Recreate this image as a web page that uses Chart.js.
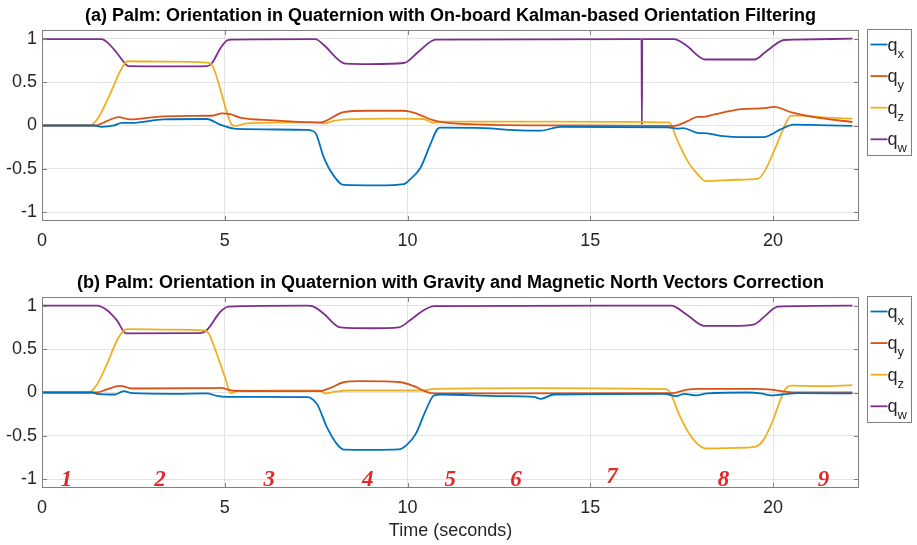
<!DOCTYPE html>
<html>
<head>
<meta charset="utf-8">
<script src="https://cdn.jsdelivr.net/npm/chart.js@4.4.1/dist/chart.umd.min.js"></script>
<style>
  html, body { margin: 0; padding: 0; background: #fff; }
  #wrap { position: relative; width: 917px; height: 545px; }
  .panel { position: absolute; left: 0; width: 917px; }
  #panel-a { top: 0; height: 265px; }
  #panel-b { top: 265px; height: 280px; }
</style>
</head>
<body>
<div id="wrap">
  <div class="panel" id="panel-a"><canvas id="chart-a"></canvas></div>
  <div class="panel" id="panel-b"><canvas id="chart-b"></canvas></div>
</div>
<script>
// (a) on-board Kalman filter, [time s, value]
const kalmanQx = [[0,0],[1.42,0],[1.63,-0.015],[1.95,-0.002],[2.18,0.03],[2.46,0.03],[3.32,0.07],[4.51,0.075],[4.87,0.01],[5.33,-0.04],[7.25,-0.05],[7.39,-0.06],[7.5,-0.1],[7.71,-0.37],[7.98,-0.58],[8.25,-0.685],[9.2,-0.69],[9.9,-0.675],[10.07,-0.62],[10.35,-0.49],[10.62,-0.22],[10.81,-0.045],[10.9,-0.025],[12.09,-0.03],[12.82,-0.05],[13.64,-0.06],[14.19,-0.015],[17.1,-0.02],[17.38,-0.035],[17.55,-0.03],[17.93,-0.085],[18.2,-0.09],[18.56,-0.12],[19.29,-0.135],[19.75,-0.135],[19.97,-0.1],[20.2,-0.045],[20.57,0.01],[21.2,0.005],[22.17,-0.005]];
const kalmanQy = [[0,0],[1.45,0],[1.77,0.05],[2.09,0.097],[2.41,0.07],[3.14,0.1],[4.05,0.11],[4.69,0.115],[4.92,0.14],[5.15,0.13],[5.42,0.09],[6.34,0.06],[7.62,0.035],[7.75,0.05],[8.25,0.155],[8.9,0.17],[9.9,0.17],[10.26,0.135],[10.67,0.065],[10.99,0.035],[12.09,0.01],[14.5,0],[17.29,-0.005],[17.66,0.05],[17.93,0.1],[18.1,0.1],[18.39,0.127],[19.03,0.184],[19.75,0.2],[20.03,0.215],[20.48,0.155],[21.12,0.097],[22.17,0.04]];
const kalmanQz = [[0,0],[1.31,0],[1.54,0.09],[1.86,0.36],[2.14,0.625],[2.34,0.74],[3.5,0.735],[4.51,0.725],[4.65,0.7],[4.87,0.43],[5.05,0.165],[5.19,0.01],[5.3,-0.005],[5.6,0.025],[7.4,0.035],[7.75,0.025],[7.95,0.05],[8.3,0.07],[9.5,0.08],[10.44,0.075],[10.71,0.03],[10.9,0.045],[14,0.045],[17.15,0.035],[17.39,-0.18],[17.66,-0.41],[17.93,-0.56],[18.16,-0.64],[19.0,-0.625],[19.57,-0.615],[19.75,-0.54],[20.03,-0.29],[20.29,-0.03],[20.48,0.11],[20.7,0.115],[21.5,0.09],[22.17,0.08]];
const kalmanQw = [[0,0.995],[1.63,0.995],[1.78,0.96],[2.05,0.835],[2.28,0.71],[2.36,0.683],[3.5,0.68],[4.51,0.685],[4.65,0.72],[4.88,0.89],[5.06,0.98],[5.19,0.99],[7.48,0.995],[7.7,0.93],[8.3,0.713],[9.0,0.708],[9.9,0.72],[10.3,0.85],[10.77,0.99],[16.4,0.995],[16.41,0.01],[16.42,0.995],[17.29,0.995],[17.6,0.93],[18.15,0.76],[19.49,0.76],[19.8,0.85],[20.3,0.985],[20.6,0.99],[22.17,1.0]];

// (b) gravity + magnetic north correction
const correctedQx = [[0,0],[1.37,0],[1.5,-0.015],[2.0,-0.023],[2.23,0.015],[2.46,-0.008],[3.6,-0.015],[4.51,-0.01],[4.79,-0.04],[5.05,-0.05],[7.25,-0.053],[7.34,-0.06],[7.53,-0.137],[7.8,-0.405],[8.07,-0.595],[8.25,-0.657],[9.0,-0.66],[9.76,-0.655],[9.95,-0.615],[10.22,-0.48],[10.49,-0.214],[10.72,-0.034],[10.9,-0.023],[12.55,-0.042],[13.46,-0.05],[13.64,-0.073],[14.01,-0.023],[17.02,-0.015],[17.34,-0.042],[17.57,-0.015],[17.89,-0.034],[18.2,-0.01],[19.3,0],[19.66,-0.01],[19.95,-0.034],[20.22,-0.023],[20.68,-0.008],[22.17,-0.011]];
const correctedQy = [[0,0],[1.5,0],[1.77,0.035],[2.14,0.076],[2.46,0.046],[4.51,0.05],[4.88,0.053],[5.24,0.02],[7.59,0.015],[7.89,0.053],[8.25,0.118],[8.71,0.13],[9.81,0.118],[10.17,0.073],[10.54,0.004],[10.72,-0.011],[17.21,-0.008],[17.66,0.034],[17.94,0.042],[19.49,0.042],[19.95,0.034],[20.22,0.015],[20.58,0],[22.17,0]];
const correctedQz = [[0,0],[1.27,0],[1.5,0.09],[1.77,0.32],[2.09,0.63],[2.32,0.73],[3.5,0.725],[4.42,0.715],[4.56,0.68],[4.79,0.435],[5.01,0.17],[5.17,-0.01],[5.33,0.015],[7.59,0.023],[7.75,-0.01],[7.98,0.008],[8.44,0.023],[10.45,0.023],[10.72,0.042],[13.5,0.05],[17.07,0.038],[17.21,-0.023],[17.39,-0.214],[17.66,-0.443],[17.94,-0.595],[18.16,-0.645],[19.0,-0.637],[19.49,-0.626],[19.72,-0.557],[19.99,-0.328],[20.22,-0.061],[20.36,0.053],[20.49,0.08],[21.3,0.073],[22.17,0.084]];
const correctedQw = [[0,1.0],[1.5,1.0],[1.77,0.95],[2.05,0.83],[2.3,0.68],[4.33,0.683],[4.51,0.72],[4.88,0.93],[5.1,0.99],[7.25,1.0],[7.43,0.99],[7.7,0.91],[8.16,0.75],[9.0,0.74],[9.76,0.75],[10.08,0.836],[10.45,0.95],[10.72,0.996],[17.21,1.0],[17.66,0.89],[18.12,0.767],[18.9,0.767],[19.49,0.786],[19.76,0.874],[20.13,0.989],[22.17,1.0]];

const seriesLabels = ["qx", "qy", "qz", "qw"];
const seriesColors = ["#0072BD", "#D95319", "#EDB120", "#7E2F8E"];

// red phase numbers on panel (b)
const phaseLabels = ["1", "2", "3", "4", "5", "6", "7", "8", "9"];
const phaseTimes = [0.67, 3.23, 6.22, 8.91, 11.17, 12.97, 15.59, 18.64, 21.38];
const phaseLevels = [-1.01, -1.01, -1.01, -1.01, -1.01, -1.01, -0.975, -1.01, -1.01];

const titleA = "(a) Palm: Orientation in Quaternion with On-board Kalman-based Orientation Filtering";
const titleB = "(b) Palm: Orientation in Quaternion with Gravity and Magnetic North Vectors Correction";

const FONT = "'Liberation Sans', Arial, sans-serif";
const INK = "#262626";

const frame = {
  id: "frame",
  afterDatasetsDraw(chart) {
    const { ctx, chartArea: a, scales: { x, y } } = chart;
    ctx.save();
    ctx.strokeStyle = "#808080";
    ctx.lineWidth = 1;
    ctx.strokeRect(Math.round(a.left) + 0.5, Math.round(a.top) + 0.5, Math.round(a.width) - 1, Math.round(a.height) - 1);
    ctx.beginPath();
    y.ticks.forEach(t => {
      const py = Math.round(y.getPixelForValue(t.value)) + 0.5;
      ctx.moveTo(a.left, py); ctx.lineTo(a.left + 5, py);
      ctx.moveTo(a.right, py); ctx.lineTo(a.right - 5, py);
    });
    x.ticks.forEach(t => {
      const px = Math.round(x.getPixelForValue(t.value)) + 0.5;
      ctx.moveTo(px, a.bottom); ctx.lineTo(px, a.bottom - 5);
      ctx.moveTo(px, a.top); ctx.lineTo(px, a.top + 5);
    });
    ctx.stroke();
    ctx.restore();
  }
};

const panelTitle = {
  id: "panelTitle",
  afterDraw(chart, args, opts) {
    const { ctx, chartArea: a } = chart;
    ctx.save();
    ctx.font = `bold 18px ${FONT}`;
    ctx.fillStyle = "#000";
    ctx.textAlign = "center";
    ctx.textBaseline = "middle";
    ctx.fillText(opts.text, (a.left + a.right) / 2, a.top - 14);
    ctx.restore();
  }
};

const qLegend = {
  id: "qLegend",
  afterDraw(chart) {
    const { ctx, chartArea: a } = chart;
    const left = Math.round(a.right) + 8.5, top = Math.round(a.top) - 0.5;
    ctx.save();
    ctx.fillStyle = "#fff";
    ctx.fillRect(left, top, 44, 126);
    ctx.strokeStyle = "#808080";
    ctx.lineWidth = 1;
    ctx.strokeRect(left, top, 44, 126);
    chart.data.datasets.forEach((ds, i) => {
      const yy = top + 15 + i * 31.6;
      ctx.strokeStyle = ds.borderColor;
      ctx.lineWidth = 1.8;
      ctx.beginPath();
      ctx.moveTo(left + 3, yy);
      ctx.lineTo(left + 20, yy);
      ctx.stroke();
      ctx.fillStyle = INK;
      ctx.textBaseline = "alphabetic";
      ctx.font = `18px ${FONT}`;
      ctx.fillText(ds.label[0], left + 20, yy + 6);
      ctx.font = `13px ${FONT}`;
      ctx.fillText(ds.label.slice(1), left + 30, yy + 13);
    });
    ctx.restore();
  }
};

const phaseMarks = {
  id: "phaseMarks",
  afterDatasetsDraw(chart, args, opts) {
    if (!opts.show) return;
    const { ctx, scales: { x, y } } = chart;
    ctx.save();
    ctx.font = "bold italic 23px 'Liberation Serif', 'Times New Roman', serif";
    ctx.fillStyle = "#e02a2a";
    ctx.textAlign = "center";
    ctx.textBaseline = "middle";
    phaseLabels.forEach((label, i) => {
      ctx.fillText(label, x.getPixelForValue(phaseTimes[i]), y.getPixelForValue(phaseLevels[i]));
    });
    ctx.restore();
  }
};

function buildChart(canvasId, series, title, opts) {
  return new Chart(document.getElementById(canvasId), {
    type: "line",
    data: {
      datasets: series.map((pts, i) => ({
        label: seriesLabels[i],
        data: pts.map(([t, v]) => ({ x: t, y: v })),
        borderColor: seriesColors[i],
        borderWidth: 1.8,
        pointRadius: 0,
        cubicInterpolationMode: "monotone",
        fill: false
      }))
    },
    options: {
      responsive: true,
      maintainAspectRatio: false,
      animation: false,
      devicePixelRatio: 1,
      layout: { padding: { top: opts.padTop, right: 58, bottom: 0, left: 0 } },
      plugins: {
        legend: { display: false },
        tooltip: { enabled: false },
        panelTitle: { text: title },
        phaseMarks: { show: opts.phases }
      },
      scales: {
        x: {
          type: "linear",
          min: 0,
          max: 22.35,
          afterFit: s => { s.height = opts.xHeight; },
          grid: { color: "#e3e3e3", drawTicks: false },
          border: { display: false },
          ticks: {
            stepSize: 5,
            includeBounds: false,
            padding: 9,
            color: INK,
            font: { family: FONT, size: 18 },
            maxRotation: 0
          },
          title: {
            display: opts.xTitle,
            text: "Time (seconds)",
            color: INK,
            font: { family: FONT, size: 18 },
            padding: { top: 4, bottom: 3 }
          }
        },
        y: {
          min: -1.1,
          max: 1.1,
          afterFit: s => { s.width = 42; },
          grid: { color: "#e3e3e3", drawTicks: false },
          border: { display: false },
          ticks: {
            stepSize: 0.5,
            includeBounds: false,
            padding: 5,
            color: INK,
            font: { family: FONT, size: 18 },
            callback: v => String(v)
          }
        }
      }
    },
    plugins: [frame, panelTitle, qLegend, phaseMarks]
  });
}

buildChart("chart-a", [kalmanQx, kalmanQy, kalmanQz, kalmanQw], titleA,
  { padTop: 30, xHeight: 44, xTitle: false, phases: false });
buildChart("chart-b", [correctedQx, correctedQy, correctedQz, correctedQw], titleB,
  { padTop: 32, xHeight: 57, xTitle: true, phases: true });
</script>
</body>
</html>
